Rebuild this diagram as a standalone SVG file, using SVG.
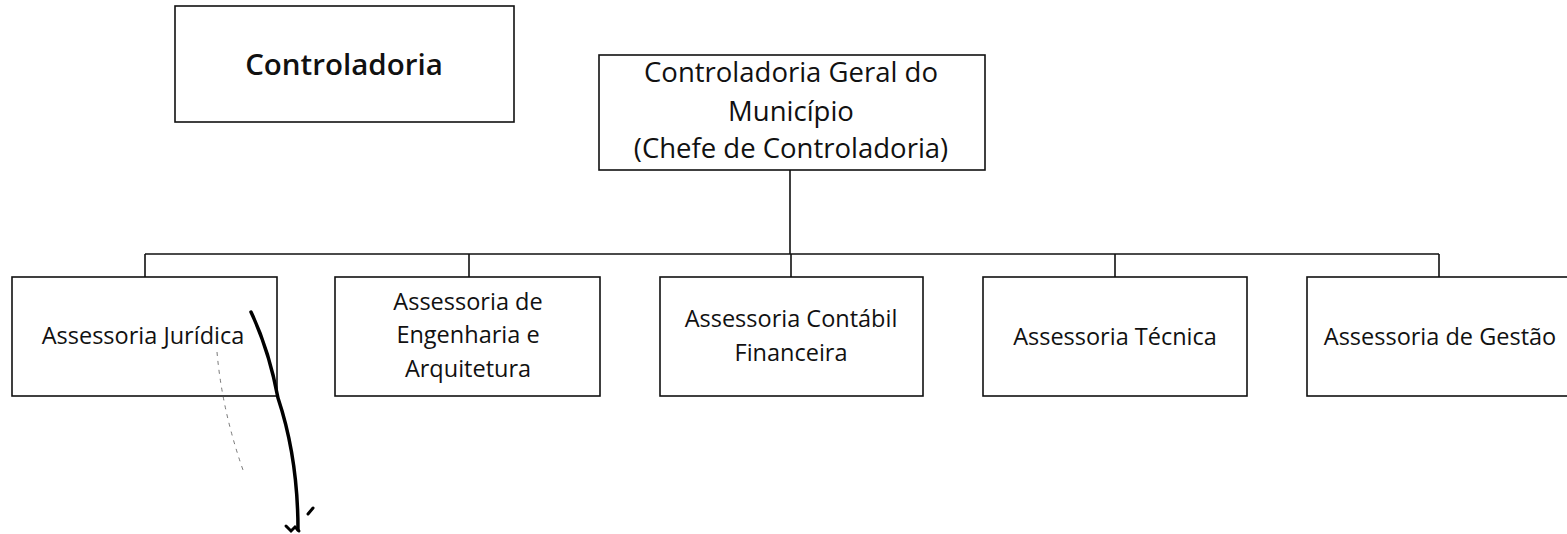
<svg xmlns="http://www.w3.org/2000/svg" width="1567" height="534" viewBox="0 0 1567 534">
<style>
.box{fill:#fff;stroke:#111;stroke-width:1.6}
.lbl{font-family:"Open Sans","Liberation Sans",sans-serif;font-size:23.5px;fill:#111;text-anchor:middle}
.big{font-family:"Open Sans","Liberation Sans",sans-serif;font-size:27.5px;fill:#111;text-anchor:middle}
.title{font-family:"Open Sans","Liberation Sans",sans-serif;font-size:29.5px;font-weight:600;fill:#111;text-anchor:middle}
.con{fill:none;stroke:#111;stroke-width:1.6}
</style>
<rect width="1567" height="534" fill="#fff"/>
<g id="connectors">
<path class="con" d="M790 170 V254 M145 254 H1439 M145 254 V277 M469 254 V277 M791 254 V277 M1115 254 V277 M1439 254 V277"/>
</g>
<g id="title">
<rect class="box" x="175" y="6" width="339" height="116"/>
<text class="title" x="344" y="75">Controladoria</text>
</g>
<g id="chefe">
<rect class="box" x="599" y="55" width="386" height="115"/>
<text class="big" x="791" y="82">Controladoria Geral do</text>
<text class="big" x="791" y="121">Município</text>
<text class="big" x="791" y="158">(Chefe de Controladoria)</text>
</g>
<g id="juridica">
<rect class="box" x="12" y="277" width="265" height="119"/>
<text class="lbl" x="143" y="344">Assessoria Jurídica</text>
</g>
<g id="engenharia">
<rect class="box" x="335" y="277" width="265" height="119"/>
<text class="lbl" x="468" y="310">Assessoria de</text>
<text class="lbl" x="468" y="343">Engenharia e</text>
<text class="lbl" x="468" y="377">Arquitetura</text>
</g>
<g id="contabil">
<rect class="box" x="660" y="277" width="263" height="119"/>
<text class="lbl" x="791" y="327">Assessoria Contábil</text>
<text class="lbl" x="791" y="361">Financeira</text>
</g>
<g id="tecnica">
<rect class="box" x="983" y="277" width="264" height="119"/>
<text class="lbl" x="1115" y="345">Assessoria Técnica</text>
</g>
<g id="gestao">
<rect class="box" x="1307" y="277" width="265" height="119"/>
<text class="lbl" x="1440" y="345">Assessoria de Gestão</text>
</g>
<g id="handwriting">
<path d="M251 312 Q269 350 278 398 Q298 458 298 530" fill="none" stroke="#000" stroke-width="3.5" stroke-linecap="round"/>
<path d="M286 526 L291 531 L295 527 L299 531" fill="none" stroke="#000" stroke-width="3" stroke-linecap="round"/>
<path d="M308 514 L313 508" fill="none" stroke="#000" stroke-width="3" stroke-linecap="round"/>
<path d="M217 352 Q222 410 243 470" fill="none" stroke="#555" stroke-width="0.8" stroke-dasharray="4 5"/>
</g>
</svg>
